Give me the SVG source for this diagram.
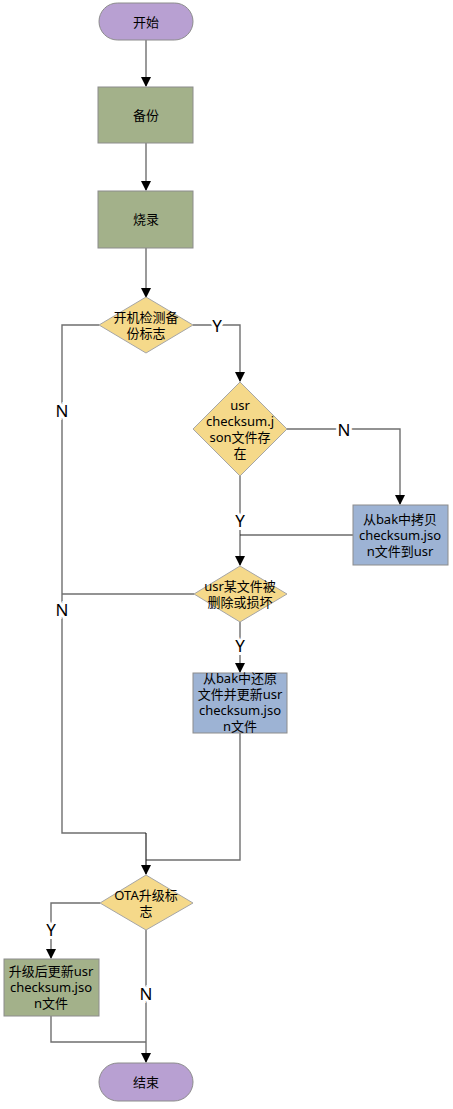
<svg xmlns="http://www.w3.org/2000/svg" width="453" height="1109" viewBox="0 0 453 1109">
<style>
text{font-family:"Noto Sans","Noto Sans CJK SC",sans-serif;font-size:13px;fill:#000;text-anchor:middle;dominant-baseline:central}
.term{fill:#B8A0D2;stroke:#8c8c8c;stroke-width:1}
.proc{fill:#A3B18A;stroke:#8c8c8c;stroke-width:1}
.blue{fill:#9DB3D4;stroke:#8c8c8c;stroke-width:1}
.dec{fill:#F5D98A;stroke:#a6a6a6;stroke-width:1}
.ln{fill:none;stroke:#6f6f6f;stroke-width:1.4}
.lnk{fill:none;stroke:#222;stroke-width:1.2}
.lbl{font-size:17px;paint-order:stroke;stroke:#fff;stroke-width:6px}
</style>
<defs>
<marker id="ar" markerWidth="10" markerHeight="10" refX="9" refY="5" orient="auto" markerUnits="userSpaceOnUse">
<path d="M0,0 L10,5 L0,10 Z" fill="#000"/>
</marker>
</defs>
<rect width="453" height="1109" fill="#fff"/>
<g id="connectors">
<path class="ln" d="M146,40 V86" marker-end="url(#ar)"/>
<path class="ln" d="M146,143 V190" marker-end="url(#ar)"/>
<path class="ln" d="M146,248 V297" marker-end="url(#ar)"/>
<path class="ln" d="M193,325 H240 V381" marker-end="url(#ar)"/>
<path class="ln" d="M99,325 H62 V833 H146"/>
<path class="ln" d="M287,429 H400 V504" marker-end="url(#ar)"/>
<path class="ln" d="M240,476 V565" marker-end="url(#ar)"/>
<path class="lnk" d="M353,535 H240"/>
<path class="ln" d="M194,594 H62"/>
<path class="ln" d="M240,622 V672" marker-end="url(#ar)"/>
<path class="ln" d="M240,733 V860 H146"/>
<path class="lnk" d="M146,833 V874" marker-end="url(#ar)"/>
<path class="ln" d="M100,903 H51 V958" marker-end="url(#ar)"/>
<path class="ln" d="M146,930 V1062" marker-end="url(#ar)"/>
<path class="ln" d="M51,1016 V1042 H146"/>
<text class="lbl" x="217" y="325">Y</text>
<text class="lbl" x="62" y="410">N</text>
<text class="lbl" x="344" y="429">N</text>
<text class="lbl" x="240" y="520">Y</text>
<text class="lbl" x="62" y="609">N</text>
<text class="lbl" x="240" y="645">Y</text>
<text class="lbl" x="51" y="929">Y</text>
<text class="lbl" x="146" y="993">N</text>
</g>
<g id="start">
<rect class="term" x="99" y="3" width="94" height="37" rx="18.5"/>
<text x="146" y="21.5">开始</text>
</g>
<g id="backup">
<rect class="proc" x="98" y="87" width="95" height="56"/>
<text x="146" y="115">备份</text>
</g>
<g id="burn">
<rect class="proc" x="98" y="191" width="95" height="57"/>
<text x="146" y="219">烧录</text>
</g>
<g id="d1">
<polygon class="dec" points="146,297 193,325 146,353 99,325"/>
<text x="146" y="317">开机检测备</text>
<text x="146" y="333">份标志</text>
</g>
<g id="d2">
<polygon class="dec" points="240,382 287,429 240,476 193,429"/>
<text x="240" y="405">usr</text>
<text x="240" y="421">checksum.j</text>
<text x="240" y="437">son文件存</text>
<text x="240" y="453">在</text>
</g>
<g id="copy">
<rect class="blue" x="353" y="505" width="95" height="60"/>
<text x="400" y="519">从bak中拷贝</text>
<text x="400" y="535">checksum.jso</text>
<text x="400" y="551">n文件到usr</text>
</g>
<g id="d3">
<polygon class="dec" points="240,566 287,594 240,622 194,594"/>
<text x="240" y="586">usr某文件被</text>
<text x="240" y="602">删除或损坏</text>
</g>
<g id="restore">
<rect class="blue" x="193" y="673" width="94" height="60"/>
<text x="240" y="678">从bak中还原</text>
<text x="240" y="694">文件并更新usr</text>
<text x="240" y="710">checksum.jso</text>
<text x="240" y="726">n文件</text>
</g>
<g id="ota">
<polygon class="dec" points="146,875 193,903 146,930 100,903"/>
<text x="146" y="895">OTA升级标</text>
<text x="146" y="911">志</text>
</g>
<g id="update">
<rect class="proc" x="4" y="959" width="95" height="57"/>
<text x="51" y="971">升级后更新usr</text>
<text x="51" y="987">checksum.jso</text>
<text x="51" y="1003">n文件</text>
</g>
<g id="end">
<rect class="term" x="99" y="1063" width="94" height="38" rx="19"/>
<text x="146" y="1082">结束</text>
</g>
</svg>
